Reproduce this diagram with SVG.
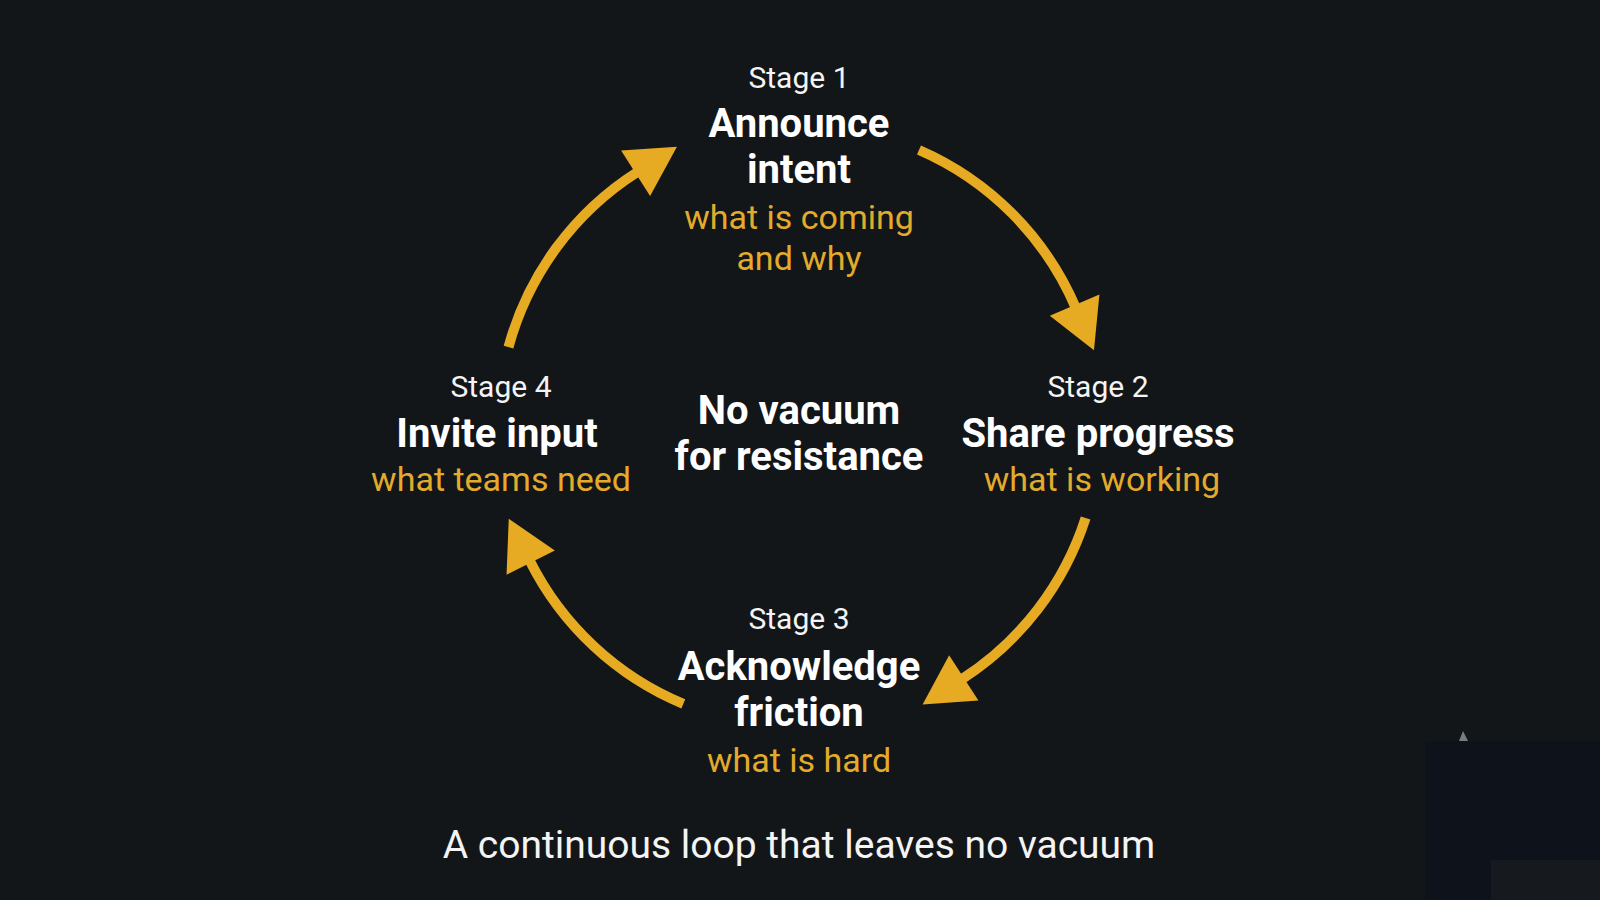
<svg xmlns="http://www.w3.org/2000/svg" width="1600" height="900" viewBox="0 0 1600 900">
  <style>
    .stage { font-family: Roboto, "Liberation Sans", sans-serif; font-size: 30px; fill: #f4f4f4; text-anchor: middle; }
    .title { font-family: Roboto, "Liberation Sans", sans-serif; font-size: 40px; font-weight: bold; fill: #ffffff; text-anchor: middle; }
    .sub { font-family: Roboto, "Liberation Sans", sans-serif; font-size: 34px; fill: #e3ab2c; text-anchor: middle; }
    .caption { font-family: Roboto, "Liberation Sans", sans-serif; font-size: 39px; fill: #f4f4f4; text-anchor: middle; }
    .arc { fill: none; stroke: #e6ab22; stroke-width: 10; stroke-linecap: butt; }
  </style>
  <defs>
    <marker id="head" markerUnits="userSpaceOnUse" viewBox="-5 -30 60 60" markerWidth="60" markerHeight="60" refX="2" refY="0" orient="auto">
      <path d="M0,-27 L49,0 L0,27 Z" fill="#e6ab22"/>
    </marker>
  </defs>
  <rect x="0" y="0" width="1600" height="900" fill="#131619"/>
  <rect x="1425" y="741" width="175" height="159" fill="#0e121a"/>
  <rect x="1491" y="860" width="109" height="40" fill="#161a1e"/>
  <polygon points="1463,731 1468,741 1459,741" fill="#7a7d80"/>

  <g id="connectors">
    <path class="arc" d="M919,150 A301,301 0 0 1 1075.4,307" marker-end="url(#head)"/>
    <path class="arc" d="M1085.6,518 A301,301 0 0 1 962.1,679" marker-end="url(#head)"/>
    <path class="arc" d="M683.3,703.9 A301,301 0 0 1 529.8,560.8" marker-end="url(#head)"/>
    <path class="arc" d="M508.5,347.1 A301,301 0 0 1 637.3,172.1" marker-end="url(#head)"/>
  </g>

  <g id="stage1">
    <text class="stage" x="799" y="88">Stage 1</text>
    <text class="title" x="799" y="137">Announce</text>
    <text class="title" x="799" y="183">intent</text>
    <text class="sub" x="799" y="229">what is coming</text>
    <text class="sub" x="799" y="270">and why</text>
  </g>
  <g id="stage2">
    <text class="stage" x="1098" y="397">Stage 2</text>
    <text class="title" x="1098" y="447">Share progress</text>
    <text class="sub" x="1102" y="491">what is working</text>
  </g>
  <g id="stage3">
    <text class="stage" x="799" y="629">Stage 3</text>
    <text class="title" x="799" y="680">Acknowledge</text>
    <text class="title" x="799" y="726">friction</text>
    <text class="sub" x="799" y="772">what is hard</text>
  </g>
  <g id="stage4">
    <text class="stage" x="501" y="397">Stage 4</text>
    <text class="title" x="497" y="447">Invite input</text>
    <text class="sub" x="501" y="491">what teams need</text>
  </g>
  <g id="center">
    <text class="title" x="799" y="424">No vacuum</text>
    <text class="title" x="799" y="470">for resistance</text>
  </g>
  <g id="caption">
    <text class="caption" x="799" y="858">A continuous loop that leaves no vacuum</text>
  </g>
</svg>
